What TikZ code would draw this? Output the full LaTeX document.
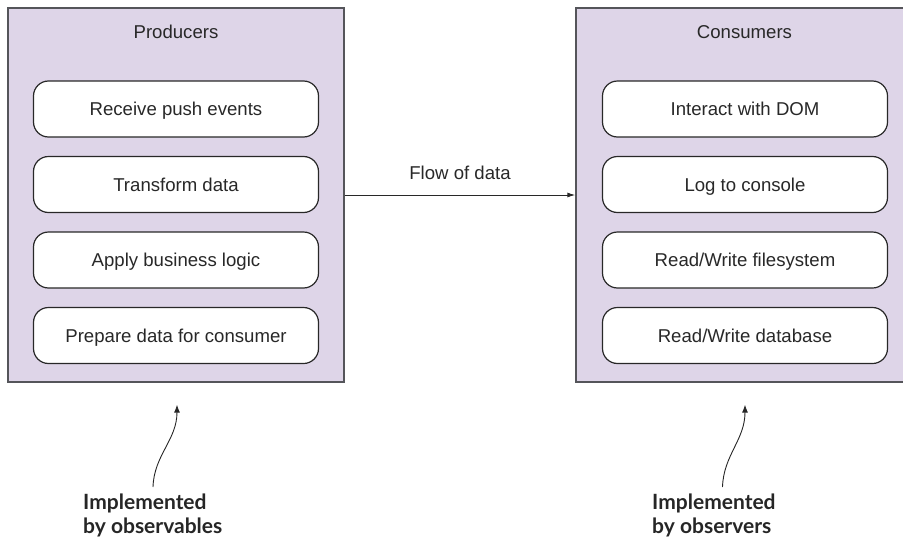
\documentclass[tikz,border=0pt]{standalone}
\usepackage{fontspec}
\setmainfont{Liberation Sans}
\newfontfamily\notefont{Lato}
\usetikzlibrary{positioning,arrows.meta}

\definecolor{lavender}{RGB}{222,213,232}
\definecolor{edgegray}{RGB}{85,85,90}
\definecolor{inkgray}{RGB}{40,40,40}

\begin{document}
\begin{tikzpicture}[x=1pt, y=-1pt,
                    node distance=18.3pt,
                    text=inkgray,
                    font=\fontsize{18.6}{22}\selectfont]
    \tikzstyle{container}=[draw=edgegray, fill=lavender, line width=1.3pt, minimum width=336pt, minimum height=374pt, inner sep=0pt]
    \tikzstyle{task}=[draw=inkgray, fill=white, line width=1.2pt, rounded corners=15pt, minimum width=285pt, minimum height=56pt, inner sep=0pt, text height=13pt, text depth=0pt]
    \tikzstyle{note}=[font=\notefont\bfseries\fontsize{21}{24}\selectfont, align=left, anchor=north west, inner sep=0pt, text=black!85]
    \tikzstyle{pointer}=[draw=black!85, line width=0.9pt, -{Latex[length=8pt,width=6pt]}]

    \useasboundingbox (0,0) rectangle (903,541);
    \clip (0,0) rectangle (903,541);

    % the two sides
    \node[container] (prod) at (176,195) {};
    \node[container, minimum width=337pt] (cons) at (744.5,195) {};
    \node (prodtitle) at (176,32) {Producers};
    \node (constitle) at (744.5,32) {Consumers};

    % producer tasks
    \node[task] (recv) at (176,109) {Receive push events};
    \node[task, below=of recv] (transform) {Transform data};
    \node[task, below=of transform] (logic) {Apply business logic};
    \node[task, below=of logic] (prepare) {Prepare data for consumer};

    % consumer tasks
    \node[task] (dom) at (745,109) {Interact with DOM};
    \node[task, below=of dom] (console) {Log to console};
    \node[task, below=of console] (files) {Read/Write filesystem};
    \node[task, below=of files] (database) {Read/Write database};

    \draw[draw=inkgray, line width=1pt, -{Latex[length=8pt,width=5pt]}] (prod.east |- 0,195) -- node[above=11pt] (flow) {Flow of data} (cons.west |- 0,195);

    % notes underneath
    \node[note] (obsnote) at (83,494) {Implemented\\by observables};
    \node[note] (obrnote) at (652,494) {Implemented\\by observers};
    \coordinate (obstail) at (153,487);
    \coordinate (obrtail) at (722.5,487);
    \draw[pointer] (obstail) .. controls (154,455) and (177,440) .. ([yshift=-22pt]prod.south -| 177,0);
    \draw[pointer] (obrtail) .. controls (723.5,455) and (745,440) .. ([yshift=-22pt]cons.south -| 745,0);
\end{tikzpicture}
\end{document}
